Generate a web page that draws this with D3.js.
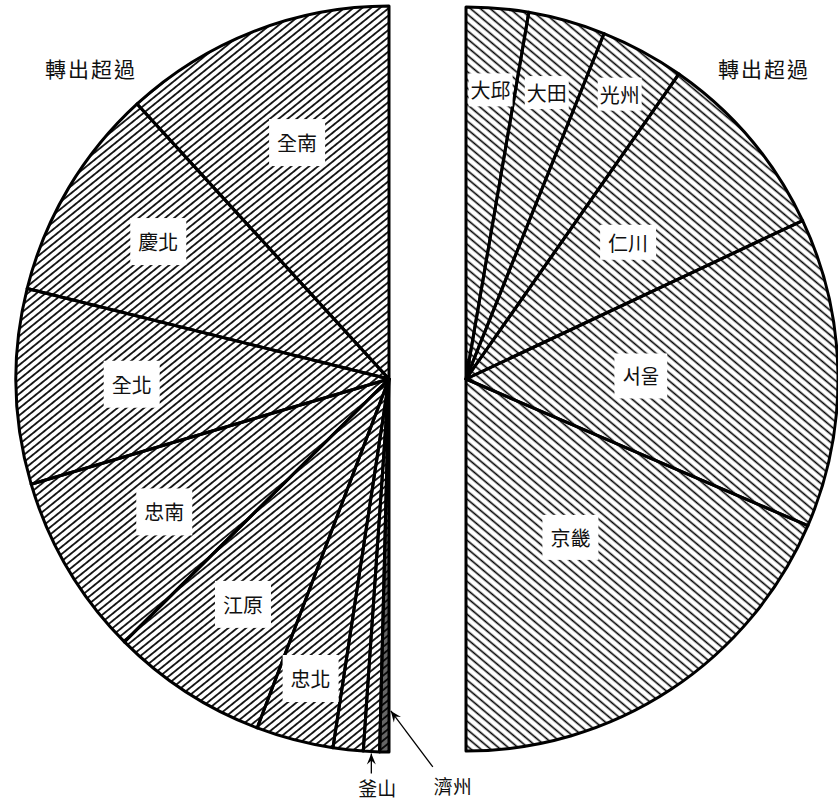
<!DOCTYPE html>
<html>
<head>
<meta charset="utf-8">
<script src="https://cdn.jsdelivr.net/npm/d3@7"></script>
<style>
  html, body { margin: 0; padding: 0; background: #fff; }
  svg { display: block; }
  text { font-family: "Noto Sans CJK TC", "Noto Sans CJK KR", sans-serif; fill: #111; }
</style>
</head>
<body>
<svg id="chart" width="838" height="802"></svg>
<script>
// ---- data (shares of each half, %) ----
const leftTitle = "轉出超過";
const rightTitle = "轉出超過";
const leftCategories = ["全南", "慶北", "全北", "忠南", "江原", "忠北", "慶南", "釜山", "濟州"];
const leftValues     = [23.6, 18.6, 16.9, 15.8, 13.6, 6.7, 2.6, 1.4, 0.8];
const leftShown      = [true, true, true, true, true, true, false, false, false];
const rightCategories = ["大邱", "大田", "光州", "仁川", "서울", "京畿"];
const rightValues     = [5.4, 6.7, 7.3, 16.6, 26.9, 37.1];

// ---- layout ----
const W = 838, H = 802;
const L = { cx: 389, cy: 379, r: 373 };
const R = { cx: 466, cy: 379, r: 372 };
const leftLabelRadius  = [0.68, 0.72, 0.69, 0.70, 0.72, 0.83, 0, 0, 0];
const rightLabelRadius = [0.78, 0.80, 0.87, 0.57, 0.47, 0.51];
const rightCompact     = [true, true, true, false, false, false];

const svg = d3.select("#chart");
const defs = svg.append("defs");

function hatch(id, angle, gap, sw) {
  const p = defs.append("pattern")
    .attr("id", id)
    .attr("patternUnits", "userSpaceOnUse")
    .attr("width", 20).attr("height", gap)
    .attr("patternTransform", `rotate(${angle})`);
  p.append("line")
    .attr("x1", 0).attr("x2", 20)
    .attr("y1", gap / 2).attr("y2", gap / 2)
    .attr("stroke", "#000").attr("stroke-width", sw);
}
hatch("hatchL", -39, 5.6, 1.7);
hatch("hatchR", 40, 6.3, 1.6);

function polar(c, a, rr) {
  return [c.cx + rr * Math.sin(a), c.cy - rr * Math.cos(a)];
}

function drawHalf(c, cats, vals, a0, a1, patId) {
  const pie = d3.pie().sort(null).value(d => d).startAngle(a0).endAngle(a1);
  const arcs = pie(vals);
  const arc = d3.arc().innerRadius(0).outerRadius(c.r);
  const g = svg.append("g").attr("transform", `translate(${c.cx},${c.cy})`);
  g.selectAll("path.fill").data(arcs).join("path")
    .attr("class", "fill")
    .attr("d", arc)
    .attr("fill", "#fff");
  g.selectAll("path.hatch").data(arcs).join("path")
    .attr("class", "hatch")
    .attr("d", arc)
    .attr("fill", `url(#${patId})`)
    .attr("stroke", "#000")
    .attr("stroke-width", 3)
    .attr("stroke-linejoin", "round");
  return arcs;
}

const leftArcs = drawHalf(L, leftCategories, leftValues, 0, -Math.PI, "hatchL");
const rightArcs = drawHalf(R, rightCategories, rightValues, 0, Math.PI, "hatchR");

// dark fill for the tiny 濟州 slice
{
  const a = leftArcs[leftArcs.length - 1];
  const arcJ = d3.arc().innerRadius(0).outerRadius(L.r);
  svg.append("path")
    .attr("transform", `translate(${L.cx},${L.cy})`)
    .attr("d", arcJ(a))
    .attr("fill", "#000").attr("opacity", 0.6);
}

function boxedLabel(x, y, txt, padX, padY, size) {
  const g = svg.append("g");
  const t = g.append("text")
    .attr("x", x).attr("y", y)
    .attr("text-anchor", "middle")
    .attr("dominant-baseline", "central")
    .attr("font-size", size)
    .text(txt);
  const bb = t.node().getBBox();
  g.insert("rect", "text")
    .attr("x", bb.x - padX).attr("y", bb.y - padY)
    .attr("width", bb.width + 2 * padX).attr("height", bb.height + 2 * padY)
    .attr("fill", "#fff");
}

leftArcs.forEach((a, i) => {
  if (!leftShown[i]) return;
  const m = (a.startAngle + a.endAngle) / 2;
  const [x, y] = polar(L, m, L.r * leftLabelRadius[i]);
  boxedLabel(x, y, leftCategories[i], 8, 9, 20);
});
rightArcs.forEach((a, i) => {
  const m = (a.startAngle + a.endAngle) / 2;
  const [x, y] = polar(R, m, R.r * rightLabelRadius[i]);
  if (rightCompact[i]) boxedLabel(x, y, rightCategories[i], 2, 2, 20);
  else boxedLabel(x, y, rightCategories[i], 8, i === 3 ? 3 : 8, 20);
});

// titles
svg.append("text").attr("x", 91).attr("y", 68)
  .attr("text-anchor", "middle").attr("dominant-baseline", "central")
  .attr("font-size", 21).attr("letter-spacing", 2).text(leftTitle);
svg.append("text").attr("x", 764).attr("y", 68)
  .attr("text-anchor", "middle").attr("dominant-baseline", "central")
  .attr("font-size", 21).attr("letter-spacing", 2).text(rightTitle);

// arrows for the small slices
function arrow(x1, y1, x2, y2) {
  svg.append("line").attr("x1", x1).attr("y1", y1).attr("x2", x2).attr("y2", y2)
    .attr("stroke", "#000").attr("stroke-width", 1.3);
  const ang = Math.atan2(y2 - y1, x2 - x1) * 180 / Math.PI;
  svg.append("path")
    .attr("d", "M0,0 L-11,-4.5 L-7,0 L-11,4.5 Z")
    .attr("transform", `translate(${x2},${y2}) rotate(${ang})`)
    .attr("fill", "#000");
}
const busan = leftArcs[7], jeju = leftArcs[8];
{
  const m = (busan.startAngle + busan.endAngle) / 2;
  const [tx, ty] = polar(L, m, L.r + 2);
  arrow(tx, ty + 20, tx, ty);
  svg.append("text").attr("x", tx + 6).attr("y", ty + 34)
    .attr("text-anchor", "middle").attr("dominant-baseline", "central")
    .attr("font-size", 19).text(leftCategories[7]);
}
{
  const m = (jeju.startAngle + jeju.endAngle) / 2;
  const [tx, ty] = polar(L, m, L.r * 0.89);
  arrow(tx + 48, ty + 56, tx + 6, ty);
  svg.append("text").attr("x", tx + 68).attr("y", ty + 75)
    .attr("text-anchor", "middle").attr("dominant-baseline", "central")
    .attr("font-size", 19).text(leftCategories[8]);
}
</script>
</body>
</html>
